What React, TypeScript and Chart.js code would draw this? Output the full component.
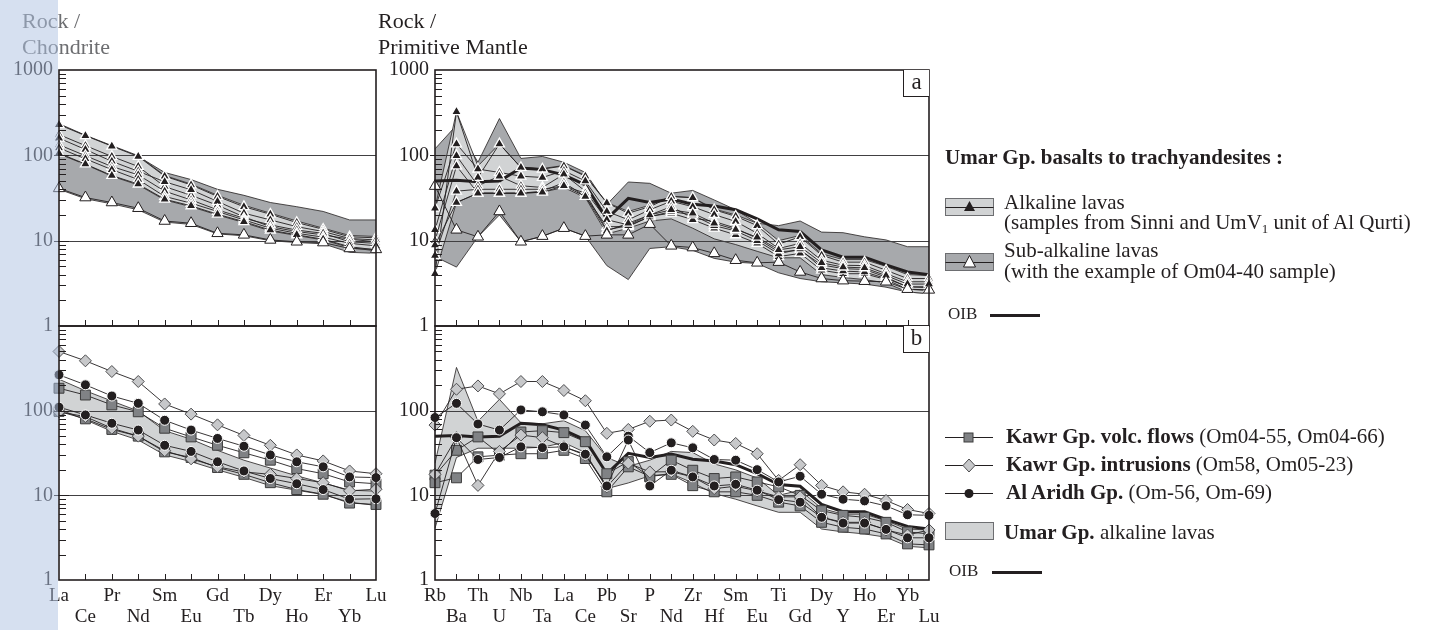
import React, { useEffect, useRef } from 'react';
import { Chart, registerables } from 'chart.js';

Chart.register(...registerables);

// ---------- categories ----------
const REE_LABELS = ['La', 'Ce', 'Pr', 'Nd', 'Sm', 'Eu', 'Gd', 'Tb', 'Dy', 'Ho', 'Er', 'Yb', 'Lu'];
const PM_LABELS = ['Rb', 'Ba', 'Th', 'U', 'Nb', 'Ta', 'La', 'Ce', 'Pb', 'Sr', 'P', 'Nd', 'Zr', 'Hf', 'Sm', 'Eu', 'Ti', 'Gd', 'Dy', 'Y', 'Ho', 'Er', 'Yb', 'Lu'];
const Y_LABELS_TOP = [1, 10, 100, 1000];
const Y_LABELS_BOTTOM = [1, 10, 100];

// ---------- chondrite-normalised (REE) ----------
const alkFieldTopCh = [235, 172, 130, 99, 58, 46, 34, 26, 21, 17, 14, 11.5, 11.2];
const alkFieldBottomCh = [104, 78, 57, 45, 30, 25, 20, 16.3, 13, 11.5, 10.2, 8.3, 7.6];
const subFieldTopCh = [230, 170, 128, 97, 63, 52, 40, 34, 28, 25, 22, 17.5, 17.5];
const subFieldBottomCh = [40, 31, 27, 23, 16.5, 15.5, 12, 11.4, 10, 9.5, 9.2, 7.3, 7.1];
const alkCh1 = [229, 170, 128, 97, 57, 45, 33, 25, 20.4, 16.3, 13.6, 11.1, 10.8];
const alkCh2 = [175, 130, 97, 74, 43, 34, 26, 19, 14.6, 12.8, 11.7, 10.4, 9.7];
const alkCh3 = [159, 117, 85, 65, 49, 39.5, 28.8, 21, 17.5, 14.6, 12.8, 10.6, 10.2];
const alkCh4 = [133, 99, 74, 59, 38, 30, 23, 18.3, 15.3, 13.3, 12.2, 9.7, 9.3];
const alkCh5 = [122, 91, 68, 52, 33, 27.5, 22, 17.5, 14, 12.2, 11, 9.3, 8.7];
const alkCh6 = [106, 79, 58, 46, 30.6, 25.6, 20.4, 16.7, 13.3, 11.7, 10.4, 8.5, 7.8];
const om0440Ch = [41, 32, 28, 24, 17, 16, 12.2, 11.7, 10.2, 9.7, 9.5, 8.1, 7.9];

const kawrVolcCh1 = [184, 153, 117, 97, 62, 49, 39, 31.8, 26, 20.7, 18, 14.4, 13.7];
const kawrVolcCh2 = [98, 80, 60, 50, 32.6, 28, 21.3, 17.7, 14.1, 11.7, 10.3, 8.1, 7.8];
const kawrIntrCh1 = [500, 388, 290, 221, 120, 91, 68, 51, 39, 30, 25.5, 19.4, 18];
const kawrIntrCh2 = [97, 85, 62, 50, 33.6, 27, 21.7, 18.9, 17.7, 15.8, 14.1, 11.3, 11.8];
const alAridhCh1 = [265, 202, 149, 122, 77, 59, 47, 38, 30, 24.9, 21.7, 16.5, 16.2];
const alAridhCh2 = [110, 89, 71, 59, 39, 33, 24.9, 19.4, 15.8, 13.7, 11.7, 9, 9.1];

// ---------- primitive-mantle-normalised ----------
const subFieldTopPM = [119, 225, 83, 270, 92, 97, 83, 63, 26.5, 48.7, 47, 36, 38.8, 30, 23, 16, 15, 17, 12.6, 12.4, 11.1, 10.2, 8.5, 8.5];
const subFieldBottomPM = [6.5, 4.9, 11.1, 20, 9.7, 11.2, 14, 11.3, 5.1, 3.5, 8.1, 8.5, 7.7, 6.2, 5.6, 5.4, 4.2, 3.6, 3.3, 3.2, 3.1, 2.85, 2.5, 2.4];
const alkFieldTopPM = [24, 324, 75, 136, 72, 70, 76, 58, 28, 22, 26, 33, 32, 23.5, 20, 16, 10, 11.5, 7, 6, 6, 5, 4, 3.9];
const alkFieldBottomPM = [4.1, 28, 36, 36, 36, 37, 42, 32, 12, 14, 17, 18, 14, 10.5, 9, 7.5, 6.3, 6.3, 4, 3.7, 3.5, 3.2, 2.5, 2.4];
const alkPM1 = [4.1, 324, 55, 136, 72, 69, 75, 57, 27.7, 21, 25, 33, 31.8, 23, 19.3, 15, 9.1, 11.1, 6.75, 5.6, 5.6, 4.5, 3.6, 3.6];
const alkPM2 = [24, 136, 69, 63, 57, 55, 66, 50, 22, 17.6, 23, 29, 25, 20.2, 16.8, 12.2, 8.1, 9.3, 5.9, 5.15, 5.1, 4.1, 3.3, 3.3];
const alkPM3 = [13.4, 99, 44, 57, 44, 42, 60, 38, 17.6, 15.3, 20, 25, 18.4, 16.8, 14, 10.6, 7.4, 7.7, 5.2, 4.7, 4.6, 3.74, 2.85, 2.9];
const alkPM4 = [10, 75, 36, 36, 36, 38, 48, 33, 14.6, 14.6, 19.3, 21, 17.6, 14, 11.7, 9.3, 6.5, 7.1, 4.5, 4.1, 4.1, 3.5, 2.7, 2.6];
const alkPM5 = [6.7, 38, 40, 40, 40, 40, 44, 36, 13.4, 15, 19, 22, 20, 15, 13, 10, 7, 8, 4.8, 4.4, 4.3, 3.6, 2.9, 2.8];
const alkPM6 = [8.9, 28, 36, 36, 36, 37, 44, 33, 13, 16, 20, 23, 21, 16, 13.5, 11, 7.8, 8.5, 5.5, 4.9, 4.8, 3.9, 3.1, 3.1];
const om0440PM = [43.6, 13.4, 11.1, 22, 9.7, 11.3, 14, 11.3, 11.7, 11.7, 15.6, 8.7, 8.3, 7.1, 5.9, 5.5, 5.6, 4.3, 3.6, 3.4, 3.35, 3.3, 2.7, 2.65];
const oibPM = [50, 51, 49, 50, 71, 68, 59, 45, 18, 31.3, 28, 30.8, 26.7, 25.5, 23, 18, 13.4, 12.8, 7.8, 6.4, 6.4, 5.2, 4.3, 4.0];

const kawrVolcPM1 = [17.3, 34, 49, 31, 56, 58, 55, 43, 18, 25, 16.5, 26, 19.8, 15.8, 16.5, 14.4, 12.6, 10, 6.6, 5.8, 5.5, 4.8, 3.7, 3.5];
const kawrVolcPM2 = [14.1, 16.1, 28.5, 29.8, 31, 31, 34, 27.2, 11, 21.7, 16.8, 17.7, 13, 11, 11, 10, 8.3, 7.5, 4.8, 4.2, 4, 3.5, 2.67, 2.6];
const kawrIntrPM1 = [67.6, 179, 196, 158, 221, 221, 173, 131, 54, 60, 75, 77.5, 57, 45, 41, 31, 15, 23, 13.1, 11, 10.3, 8.7, 6.8, 6.1];
const kawrIntrPM2 = [17.7, 48, 13.1, 33, 51.5, 48, 37.4, 29.8, 12.6, 24, 18.9, 19, 16.5, 12, 12.8, 11.3, 9.6, 9.6, 5.5, 4.8, 4.8, 3.9, 3.4, 3.9];
const alAridhPM1 = [83, 122, 69.5, 59, 102, 97, 89, 67.6, 28.5, 50, 32, 41.7, 36.4, 26.5, 26, 20.1, 14.4, 16.8, 10.3, 9, 8.6, 7.5, 5.9, 5.8];
const alAridhPM2 = [6.1, 48, 26.5, 28, 37.4, 36.6, 37.4, 30.6, 12.9, 45, 12.9, 19.8, 16.5, 12.9, 13.5, 11.5, 8.9, 8.3, 5.5, 4.7, 4.7, 3.96, 3.15, 3.15];

// ---------- styles ----------
const FONT = "'Liberation Serif', 'Times New Roman', Times, serif";
const INK = '#231f20';
const DARK_FIELD = '#a7a9ac';
const LIGHT_FIELD = '#d1d3d4';
const SQUARE_FILL = '#808285';
const DIAMOND_FILL = '#c7c8ca';

const fieldTop = (data: number[], color: string) => ({
  data, borderColor: INK, borderWidth: 0.8, pointRadius: 0, fill: '+1', backgroundColor: color,
});
const fieldBottom = (data: number[]) => ({
  data, borderColor: INK, borderWidth: 0.8, pointRadius: 0, fill: false,
});
const oibLine = (data: number[]) => ({
  data, borderColor: INK, borderWidth: 3, pointRadius: 0, fill: false,
});
const alkLine = (data: number[]) => ({
  data, borderColor: INK, borderWidth: 0.9, fill: false,
  pointStyle: 'triangle', pointRadius: 5.8, pointBackgroundColor: INK, pointBorderColor: '#ffffff', pointBorderWidth: 1.3,
});
const subLine = (data: number[]) => ({
  data, borderColor: INK, borderWidth: 0.9, fill: false,
  pointStyle: 'triangle', pointRadius: 6.5, pointBackgroundColor: '#ffffff', pointBorderColor: INK, pointBorderWidth: 1,
});
const squareLine = (data: number[]) => ({
  data, borderColor: INK, borderWidth: 0.9, fill: false,
  pointStyle: 'rect', pointRadius: 7, pointBackgroundColor: SQUARE_FILL, pointBorderColor: '#3c3c3c', pointBorderWidth: 1,
});
const diamondLine = (data: number[]) => ({
  data, borderColor: INK, borderWidth: 0.9, fill: false,
  pointStyle: 'rectRot', pointRadius: 6, pointBackgroundColor: DIAMOND_FILL, pointBorderColor: '#4d4d4f', pointBorderWidth: 1,
});
const circleLine = (data: number[]) => ({
  data, borderColor: INK, borderWidth: 0.9, fill: false,
  pointStyle: 'circle', pointRadius: 5, pointBackgroundColor: INK, pointBorderColor: '#ffffff', pointBorderWidth: 1,
});

const isDecade = (v: number) => Math.abs(Math.log10(v) - Math.round(Math.log10(v))) < 1e-9;

const framePlugin = {
  id: 'frame',
  beforeDatasetDraw(chart: any, args: any, opts: any) {
    if (args.index !== opts.gridBefore) return;
    const { ctx, chartArea: a, scales } = chart;
    ctx.save();
    ctx.strokeStyle = '#414042';
    ctx.lineWidth = 1;
    for (const v of [10, 100]) {
      const py = Math.round(scales.y.getPixelForValue(v)) + 0.5;
      ctx.beginPath();
      ctx.moveTo(a.left, py);
      ctx.lineTo(a.right, py);
      ctx.stroke();
    }
    ctx.restore();
  },
  afterDraw(chart: any) {
    const { ctx, chartArea: a, scales } = chart;
    const y = scales.y;
    const x = scales.x;
    ctx.save();
    ctx.strokeStyle = INK;
    ctx.lineWidth = 1;
    const line = (x1: number, y1: number, x2: number, y2: number) => {
      ctx.beginPath();
      ctx.moveTo(x1, y1);
      ctx.lineTo(x2, y2);
      ctx.stroke();
    };
    for (const d of [1, 10, 100]) {
      for (let m = 2; m <= 9; m++) {
        const py = Math.round(y.getPixelForValue(m * d)) + 0.5;
        line(a.left, py, a.left + 7, py);
      }
    }
    for (const d of [10, 100]) {
      const py = Math.round(y.getPixelForValue(d)) + 0.5;
      line(a.left - 5, py, a.left + 10, py);
    }
    const n = chart.data.labels.length;
    for (let i = 1; i < n - 1; i++) {
      const px = Math.round(x.getPixelForValue(i)) + 0.5;
      line(px, a.bottom, px, a.bottom - 6);
    }
    ctx.lineWidth = 1.6;
    ctx.strokeRect(a.left, a.top, a.right - a.left, a.bottom - a.top);
    ctx.restore();
  },
};

type PanelProps = {
  left: number; top: number; width: number; height: number;
  labels: string[]; datasets: any[]; showX: boolean; yLabels: number[]; gridBefore: number;
};

function Panel({ left, top, width, height, labels, datasets, showX, yLabels, gridBefore }: PanelProps) {
  const ref = useRef<HTMLCanvasElement>(null);
  useEffect(() => {
    const n = datasets.length;
    const ds = datasets.map((d, i) => ({ ...d, order: n - i, tension: 0 }));
    const chart = new Chart(ref.current as HTMLCanvasElement, {
      type: 'line',
      data: { labels, datasets: ds },
      options: {
        responsive: false,
        animation: false,
        events: [],
        layout: { padding: { top: 20, right: 20, bottom: showX ? 0 : 20, left: 0 } },
        plugins: {
          legend: { display: false },
          tooltip: { enabled: false },
          frame: { gridBefore },
        } as any,
        scales: {
          x: {
            type: 'category',
            offset: false,
            display: showX,
            grid: { display: false, drawTicks: false },
            border: { display: false },
            ticks: {
              autoSkip: false,
              maxRotation: 0,
              minRotation: 0,
              padding: 6,
              color: INK,
              font: { family: FONT, size: 19, lineHeight: 1.1 },
              callback: (_v: any, i: number) => (i % 2 === 0 ? labels[i] : ['', labels[i]]),
            },
            afterFit: (s: any) => { s.height = showX ? 50 : 0; },
          },
          y: {
            type: 'logarithmic',
            min: 1,
            max: 1000,
            grid: { display: false, drawTicks: false },
            border: { display: false },
            ticks: {
              autoSkip: false,
              padding: 6,
              color: INK,
              font: { family: FONT, size: 20 },
              callback: (v: any) => {
                const num = Number(v);
                if (isDecade(num) && yLabels.some((t) => Math.abs(t - num) < 1e-6)) return String(Math.round(num));
                return '';
              },
            },
            afterFit: (s: any) => { s.width = 59; },
          },
        } as any,
      },
      plugins: [framePlugin as any],
    });
    return () => chart.destroy();
  }, []);
  return (
    <canvas
      ref={ref}
      width={width}
      height={height}
      style={{ position: 'absolute', left, top, width, height }}
    />
  );
}

const txt = (extra: React.CSSProperties): React.CSSProperties => ({
  position: 'absolute', fontFamily: FONT, fontSize: 21, lineHeight: '20px', color: INK, whiteSpace: 'nowrap', ...extra,
});

function LineSymbol({ top, kind }: { top: number; kind: 'square' | 'diamond' | 'circle' }) {
  return (
    <svg style={{ position: 'absolute', left: 944, top: top - 8 }} width={52} height={16}>
      <line x1={1} y1={8.5} x2={49} y2={8.5} stroke={INK} strokeWidth={1} />
      {kind === 'square' && <rect x={20} y={4} width={9} height={9} fill={SQUARE_FILL} stroke="#3c3c3c" strokeWidth={1} />}
      {kind === 'diamond' && <polygon points="25,2 31,8.5 25,15 19,8.5" fill={DIAMOND_FILL} stroke="#4d4d4f" strokeWidth={1} />}
      {kind === 'circle' && <circle cx={25} cy={8.5} r={4.5} fill={INK} />}
    </svg>
  );
}

function FieldSwatch({ top, fill, tri }: { top: number; fill: string; tri: 'black' | 'white' | 'none' }) {
  return (
    <svg style={{ position: 'absolute', left: 944, top }} width={52} height={21}>
      <rect x={1.5} y={1.5} width={48} height={17} fill={fill} stroke="#6d6e71" strokeWidth={1} />
      {tri !== 'none' && <line x1={1.5} y1={10.5} x2={49.5} y2={10.5} stroke={INK} strokeWidth={1} />}
      {tri === 'black' && <polygon points="25.5,4 31,14 20,14" fill={INK} />}
      {tri === 'white' && <polygon points="25.5,3.5 31.5,15 19.5,15" fill="#ffffff" stroke={INK} strokeWidth={1} />}
    </svg>
  );
}

export default function App() {
  const topLeftSets = [
    fieldTop(subFieldTopCh, DARK_FIELD), fieldBottom(subFieldBottomCh),
    fieldTop(alkFieldTopCh, LIGHT_FIELD), fieldBottom(alkFieldBottomCh),
    alkLine(alkCh1), alkLine(alkCh2), alkLine(alkCh3), alkLine(alkCh4), alkLine(alkCh5), alkLine(alkCh6),
    subLine(om0440Ch),
  ];
  const bottomLeftSets = [
    fieldTop(alkFieldTopCh, LIGHT_FIELD), fieldBottom(alkFieldBottomCh),
    squareLine(kawrVolcCh1), squareLine(kawrVolcCh2),
    diamondLine(kawrIntrCh1), diamondLine(kawrIntrCh2),
    circleLine(alAridhCh1), circleLine(alAridhCh2),
  ];
  const topRightSets = [
    fieldTop(subFieldTopPM, DARK_FIELD), fieldBottom(subFieldBottomPM),
    fieldTop(alkFieldTopPM, LIGHT_FIELD), fieldBottom(alkFieldBottomPM),
    oibLine(oibPM),
    alkLine(alkPM1), alkLine(alkPM2), alkLine(alkPM3), alkLine(alkPM4), alkLine(alkPM5), alkLine(alkPM6),
    subLine(om0440PM),
  ];
  const bottomRightSets = [
    fieldTop(alkFieldTopPM, LIGHT_FIELD), fieldBottom(alkFieldBottomPM),
    oibLine(oibPM),
    squareLine(kawrVolcPM1), squareLine(kawrVolcPM2),
    diamondLine(kawrIntrPM1), diamondLine(kawrIntrPM2),
    circleLine(alAridhPM1), circleLine(alAridhPM2),
  ];

  return (
    <div style={{ position: 'absolute', left: 0, top: 0, width: 1438, height: 630, background: '#ffffff', overflow: 'hidden' }}>
      <Panel left={0} top={306} width={396} height={324} labels={REE_LABELS} datasets={bottomLeftSets} showX yLabels={Y_LABELS_BOTTOM} gridBefore={2} />
      <Panel left={0} top={50} width={396} height={296} labels={REE_LABELS} datasets={topLeftSets} showX={false} yLabels={Y_LABELS_TOP} gridBefore={4} />
      <Panel left={376} top={306} width={573} height={324} labels={PM_LABELS} datasets={bottomRightSets} showX yLabels={Y_LABELS_BOTTOM} gridBefore={2} />
      <Panel left={376} top={50} width={573} height={296} labels={PM_LABELS} datasets={topRightSets} showX={false} yLabels={Y_LABELS_TOP} gridBefore={4} />

      {/* panel titles */}
      <div style={{ position: 'absolute', left: 22, top: 8, fontFamily: FONT, fontSize: 22, lineHeight: '26px', color: '#6d6e71' }}>
        Rock /<br />Chondrite
      </div>
      <div style={{ position: 'absolute', left: 378, top: 8, fontFamily: FONT, fontSize: 22, lineHeight: '26px', color: INK }}>
        Rock /<br />Primitive Mantle
      </div>

      {/* a / b boxes */}
      <div style={{ position: 'absolute', left: 903, top: 70, width: 25, height: 26, borderLeft: `1.5px solid ${INK}`, borderBottom: `1.5px solid ${INK}`, background: '#fff', fontFamily: FONT, fontSize: 23, lineHeight: '24px', textAlign: 'center', color: INK }}>a</div>
      <div style={{ position: 'absolute', left: 903, top: 326, width: 25, height: 26, borderLeft: `1.5px solid ${INK}`, borderBottom: `1.5px solid ${INK}`, background: '#fff', fontFamily: FONT, fontSize: 23, lineHeight: '24px', textAlign: 'center', color: INK }}>b</div>

      {/* upper legend */}
      <div style={txt({ left: 945, top: 147, fontWeight: 'bold' })}>Umar Gp. basalts to trachyandesites :</div>
      <FieldSwatch top={197} fill={LIGHT_FIELD} tri="black" />
      <div style={txt({ left: 1004, top: 192 })}>Alkaline lavas</div>
      <div style={txt({ left: 1004, top: 212 })}>(samples from Sinni and UmV<sub style={{ fontSize: 13, verticalAlign: -4 }}>1</sub> unit of Al Qurti)</div>
      <FieldSwatch top={252} fill={DARK_FIELD} tri="white" />
      <div style={txt({ left: 1004, top: 240 })}>Sub-alkaline lavas</div>
      <div style={txt({ left: 1004, top: 261 })}>(with the example of Om04-40 sample)</div>
      <div style={txt({ left: 948, top: 304, fontSize: 17 })}>OIB</div>
      <div style={{ position: 'absolute', left: 990, top: 314, width: 50, height: 3, background: INK }} />

      {/* lower legend */}
      <LineSymbol top={437} kind="square" />
      <div style={txt({ left: 1006, top: 426 })}><b>Kawr Gp. volc. flows</b> (Om04-55, Om04-66)</div>
      <LineSymbol top={465} kind="diamond" />
      <div style={txt({ left: 1006, top: 454 })}><b>Kawr Gp. intrusions</b> (Om58, Om05-23)</div>
      <LineSymbol top={493} kind="circle" />
      <div style={txt({ left: 1006, top: 482 })}><b>Al Aridh Gp.</b> (Om-56, Om-69)</div>
      <FieldSwatch top={521} fill={LIGHT_FIELD} tri="none" />
      <div style={txt({ left: 1004, top: 522 })}><b>Umar Gp.</b> alkaline lavas</div>
      <div style={txt({ left: 949, top: 561, fontSize: 17 })}>OIB</div>
      <div style={{ position: 'absolute', left: 992, top: 571, width: 50, height: 3, background: INK }} />

      {/* light blue strip on the left edge */}
      <div style={{ position: 'absolute', left: 0, top: 0, width: 58, height: 630, background: 'rgba(173,193,225,0.5)', zIndex: 10 }} />
    </div>
  );
}
